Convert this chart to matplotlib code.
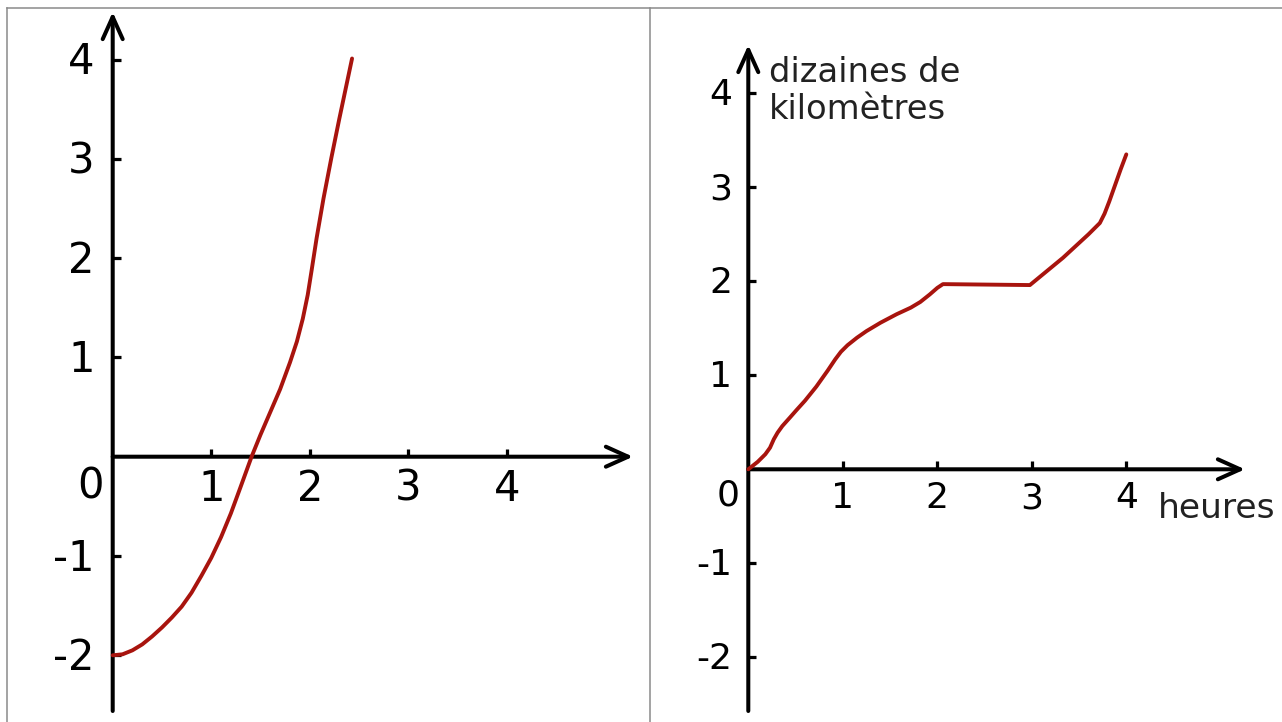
import matplotlib
matplotlib.use("Agg")
import matplotlib.pyplot as plt
from matplotlib.lines import Line2D

# ---- data ----
# left panel: a curve crossing the x axis near sqrt(2)
left_x = [0.0, 0.1, 0.2, 0.3, 0.4, 0.5, 0.6, 0.7, 0.8, 0.9, 1.0, 1.1, 1.2, 1.3,
          1.41, 1.5, 1.6, 1.7, 1.8, 1.87, 1.93, 1.98, 2.02, 2.07, 2.14, 2.22, 2.30, 2.43]
left_y = [-2.0, -1.99, -1.95, -1.89, -1.81, -1.72, -1.62, -1.51, -1.37, -1.20, -1.02,
          -0.81, -0.57, -0.30, 0.0, 0.22, 0.45, 0.68, 0.95, 1.16, 1.39, 1.63, 1.88,
          2.20, 2.60, 3.01, 3.40, 4.01]
left_xticks = [1, 2, 3, 4]
left_yticks = [-2, -1, 1, 2, 3, 4]

# right panel: distance (tens of km) against time (hours)
right_x = [0.0, 0.1, 0.18, 0.23, 0.27, 0.31, 0.36, 0.44, 0.51, 0.6, 0.72, 0.84, 0.92,
           0.98, 1.05, 1.15, 1.25, 1.4, 1.57, 1.72, 1.82, 1.92, 2.0, 2.06, 2.98, 3.33,
           3.6, 3.72, 3.77, 3.82, 3.88, 3.94, 4.0]
right_y = [0.0, 0.08, 0.16, 0.23, 0.32, 0.39, 0.46, 0.55, 0.63, 0.73, 0.88, 1.05, 1.17,
           1.25, 1.32, 1.40, 1.47, 1.56, 1.65, 1.72, 1.78, 1.86, 1.93, 1.97, 1.96, 2.25,
           2.50, 2.62, 2.72, 2.85, 3.02, 3.19, 3.35]
right_xticks = [1, 2, 3, 4]
right_yticks = [-2, -1, 1, 2, 3, 4]
y_label = "dizaines de\nkilomètres"
x_label = "heures"

W, H = 1282, 722
CURVE = "#a8140e"
AX_LW = 2.9

fig = plt.figure(figsize=(W / 100, H / 100), dpi=100)
fig.patch.set_facecolor("white")


def fx(px):
    return px / W


def fy(py):
    return 1 - py / H


def make_axes(left_px, right_px, ox, oy, ux, uy):
    """Axes covering a pixel region, with origin at (ox, oy) pixels and
    ux / uy pixels per unit."""
    ax = fig.add_axes([fx(left_px), fy(H), (right_px - left_px) / W, (H - 7) / H])
    ax.set_xlim((left_px - ox) / ux, (right_px - ox) / ux)
    ax.set_ylim((oy - H) / uy, (oy - 7) / uy)
    ax.axis("off")
    return ax


def draw_frame(ax, x_tip, y_bottom, y_tip, xticks, yticks, tick_len, fs,
               ylab_dx, ylab_dy, xlab_dy, zero_pos):
    arrow = dict(arrowstyle="->,head_length=0.8,head_width=0.36", lw=AX_LW,
                 color="black", shrinkA=0, shrinkB=0, mutation_scale=20)
    ax.annotate("", xy=(x_tip, 0), xytext=(0, 0), arrowprops=arrow)
    ax.annotate("", xy=(0, y_tip), xytext=(0, y_bottom), arrowprops=arrow)
    tx, ty = tick_len
    for t in xticks:
        ax.plot([t, t], [0, ty], color="black", lw=AX_LW * 0.8, solid_capstyle="butt")
        ax.text(t, -xlab_dy, str(t), ha="center", va="center", fontsize=fs,
                family="DejaVu Sans")
    for t in yticks:
        ax.plot([0, tx], [t, t], color="black", lw=AX_LW * 0.8, solid_capstyle="butt")
        ax.text(-ylab_dx, t - ylab_dy, str(t), ha="right", va="center", fontsize=fs,
                family="DejaVu Sans")
    ax.text(zero_pos[0], zero_pos[1], "0", ha="center", va="center", fontsize=fs,
            family="DejaVu Sans")


# left panel
axl = make_axes(6, 649, 112.7, 456.7, 98.5, 99.3)
draw_frame(axl, (633 - 112.7) / 98.5, (456.7 - 711) / 99.3, (456.7 - 12) / 99.3,
           left_xticks, left_yticks, (8 / 98.5, 8 / 99.3), 30,
           18 / 98.5, 3 / 99.3, 32 / 99.3, (-22 / 98.5, -30 / 99.3))
axl.plot(left_x, left_y, color=CURVE, lw=2.8, solid_joinstyle="round",
         solid_capstyle="round", zorder=3)

# right panel
axr = make_axes(649, W, 748.3, 469.3, 94.5, 94.0)
draw_frame(axr, (1245 - 748.3) / 94.5, (469.3 - 711) / 94.0, (469.3 - 45) / 94.0,
           right_xticks, right_yticks, (8 / 94.5, 8 / 94.0), 26,
           16 / 94.5, 2 / 94.0, 29 / 94.0, (-20 / 94.5, -26 / 94.0))
axr.plot(right_x, right_y, color=CURVE, lw=2.8, solid_joinstyle="round",
         solid_capstyle="round", zorder=3)

# axis captions (baseline of the last line)
fig.text(fx(769), fy(119), y_label, ha="left", va="baseline", fontsize=24.3,
         color="#222222", linespacing=1.17, family="DejaVu Sans")
fig.text(fx(1158), fy(518), x_label, ha="left", va="baseline", fontsize=24.8,
         color="#222222", family="DejaVu Sans")

# frame lines around the panels
for seg in ([(6.5, 6.5), (7.5, H)], [(6.5, W), (7.5, 7.5)], [(649.5, 649.5), (7.5, H)]):
    fig.add_artist(Line2D([fx(v) for v in seg[0]], [fy(v) for v in seg[1]],
                          color="#8a8a8a", lw=1.1, transform=fig.transFigure))

fig.savefig("out.png", dpi=100)
